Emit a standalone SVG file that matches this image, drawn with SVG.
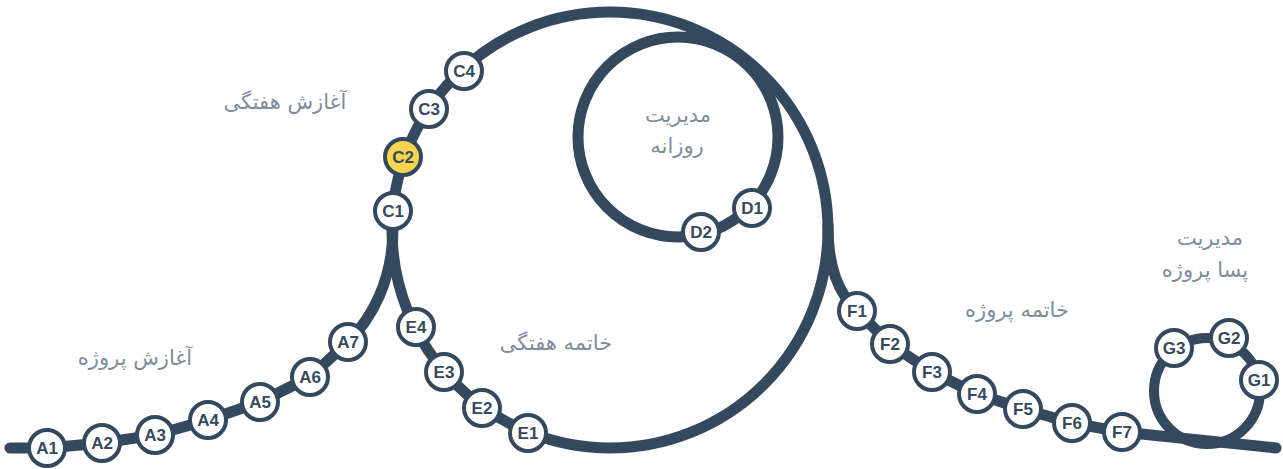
<svg xmlns="http://www.w3.org/2000/svg" width="1283" height="469" viewBox="0 0 1283 469">
<style>
.ln{fill:none;stroke:#34495e;stroke-width:11;stroke-linecap:round;stroke-linejoin:round}
.lt{stroke-width:10}
.nd circle{fill:#ffffff;stroke:#34495e;stroke-width:4}
.nd text{font-family:"Liberation Sans",Arial,sans-serif;font-weight:bold;font-size:17px;fill:#34495e;text-anchor:middle;dominant-baseline:central}
.hl circle{fill:#f8d54e}
.lb{font-family:"DejaVu Sans","Noto Sans",sans-serif;font-size:21px;fill:#7f8c9b;text-anchor:middle;direction:rtl}
</style>
<rect width="1283" height="469" fill="#ffffff"/>
<g id="connectors">
<path class="ln" d="M10,448 L47,448 L102,443 L155,435 L208,420 L260,402 L310,377 L348,342 C372,318 393,280 393,228"/>
<circle class="ln" cx="610" cy="230" r="218"/>
<circle class="ln" cx="678" cy="137" r="100"/>
<path class="ln" d="M828,225 C828,268 838,292 857,311 L890,344 L932,372 L977,394 L1023,409 L1072,423 L1122,432 L1276,448"/>
<circle class="ln lt" cx="1207" cy="391" r="53"/>
</g>
<g id="labels">
<text class="lb" x="285" y="109">آغازش هفتگی</text>
<text class="lb" x="135" y="365">آغازش پروژه</text>
<text class="lb" x="678" y="122">مدیریت</text>
<text class="lb" x="677" y="153">روزانه</text>
<text class="lb" x="556" y="350">خاتمه هفتگی</text>
<text class="lb" x="1017" y="317">خاتمه پروژه</text>
<text class="lb" x="1210" y="245">مدیریت</text>
<text class="lb" x="1205" y="277">پسا پروژه</text>
</g>
<g id="A1" class="nd"><circle cx="47" cy="448" r="18"/><text x="47" y="448">A1</text></g>
<g id="A2" class="nd"><circle cx="102" cy="443" r="18"/><text x="102" y="443">A2</text></g>
<g id="A3" class="nd"><circle cx="155" cy="435" r="18"/><text x="155" y="435">A3</text></g>
<g id="A4" class="nd"><circle cx="208" cy="420" r="18"/><text x="208" y="420">A4</text></g>
<g id="A5" class="nd"><circle cx="260" cy="402" r="18"/><text x="260" y="402">A5</text></g>
<g id="A6" class="nd"><circle cx="310" cy="377" r="18"/><text x="310" y="377">A6</text></g>
<g id="A7" class="nd"><circle cx="348" cy="342" r="18"/><text x="348" y="342">A7</text></g>
<g id="C1" class="nd"><circle cx="393" cy="211" r="18"/><text x="393" y="211">C1</text></g>
<g id="C2" class="nd hl"><circle cx="403" cy="157" r="18"/><text x="403" y="157">C2</text></g>
<g id="C3" class="nd"><circle cx="429" cy="109" r="18"/><text x="429" y="109">C3</text></g>
<g id="C4" class="nd"><circle cx="464" cy="71" r="18"/><text x="464" y="71">C4</text></g>
<g id="D1" class="nd"><circle cx="752" cy="208" r="18"/><text x="752" y="208">D1</text></g>
<g id="D2" class="nd"><circle cx="701" cy="232" r="18"/><text x="701" y="232">D2</text></g>
<g id="E1" class="nd"><circle cx="528" cy="433" r="18"/><text x="528" y="433">E1</text></g>
<g id="E2" class="nd"><circle cx="482" cy="408" r="18"/><text x="482" y="408">E2</text></g>
<g id="E3" class="nd"><circle cx="444" cy="372" r="18"/><text x="444" y="372">E3</text></g>
<g id="E4" class="nd"><circle cx="416" cy="327" r="18"/><text x="416" y="327">E4</text></g>
<g id="F1" class="nd"><circle cx="857" cy="311" r="18"/><text x="857" y="311">F1</text></g>
<g id="F2" class="nd"><circle cx="890" cy="344" r="18"/><text x="890" y="344">F2</text></g>
<g id="F3" class="nd"><circle cx="932" cy="372" r="18"/><text x="932" y="372">F3</text></g>
<g id="F4" class="nd"><circle cx="977" cy="394" r="18"/><text x="977" y="394">F4</text></g>
<g id="F5" class="nd"><circle cx="1023" cy="409" r="18"/><text x="1023" y="409">F5</text></g>
<g id="F6" class="nd"><circle cx="1072" cy="423" r="18"/><text x="1072" y="423">F6</text></g>
<g id="F7" class="nd"><circle cx="1122" cy="432" r="18"/><text x="1122" y="432">F7</text></g>
<g id="G1" class="nd"><circle cx="1259" cy="380" r="18"/><text x="1259" y="380">G1</text></g>
<g id="G2" class="nd"><circle cx="1229" cy="338" r="18"/><text x="1229" y="338">G2</text></g>
<g id="G3" class="nd"><circle cx="1174" cy="348" r="18"/><text x="1174" y="348">G3</text></g>
</svg>
